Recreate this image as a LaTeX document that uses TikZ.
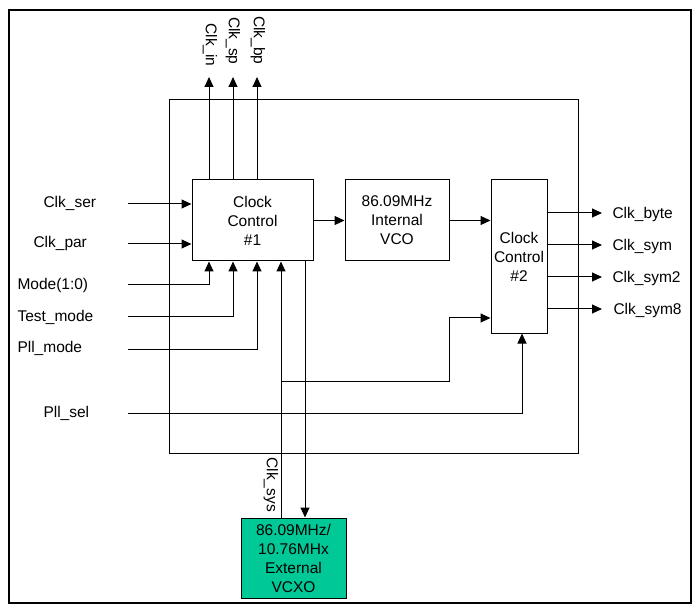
\documentclass[tikz,border=0pt]{standalone}
\usepackage{fontspec}
\setmainfont{Liberation Sans}
\usetikzlibrary{arrows.meta}
\definecolor{vcxofill}{RGB}{0,200,150}
\begin{document}
\begin{tikzpicture}[x=1pt,y=-1pt, line width=1pt,
  txt/.style={font=\fontsize{15.5}{19}\selectfont},
  blk/.style={draw, line width=1pt, inner sep=0pt, align=center, txt},
  arr/.style={-{Triangle[length=10pt,width=9pt]}},
  lbl/.style={inner sep=0pt, txt}]
\useasboundingbox (0,0) rectangle (696,612);
\draw[line width=1.5pt] (9,10) rectangle (691,603);
\draw (169,100) rectangle (578,453);

\node[blk, minimum width=121pt, minimum height=81pt] (cc1) at (252.5,220.5) {Clock\\Control\\\#1};
\node[blk, minimum width=104pt, minimum height=81pt] (vco) at (397,220.5) {86.09MHz\\Internal\\VCO};
\node[blk, minimum width=56pt, minimum height=153pt] (cc2) at (519,256.5) {Clock\\Control\\\#2};
\node[blk, fill=vcxofill, minimum width=105pt, minimum height=80pt] (vcxo) at (293.5,558) {86.09MHz/\\10.76MHx\\External\\VCXO};

\draw[arr] (cc1) -- (vco);
\draw[arr] (vco.east) -- (vco.east -| cc2.west);

% top outputs
\coordinate (t1) at (209,77);
\coordinate (t2) at (233,77);
\coordinate (t3) at (257,77);
\draw[arr] (cc1.north -| t1) -- (t1);
\draw[arr] (cc1.north -| t2) -- (t2);
\draw[arr] (cc1.north -| t3) -- (t3);
\node[lbl, rotate=-90, anchor=east] (lin) at (210,67) {Clk\_in};
\node[lbl, rotate=-90, anchor=east] (lsp) at (233,65) {Clk\_sp};
\node[lbl, rotate=-90, anchor=east] (lbp) at (258,65) {Clk\_bp};

% left inputs
\coordinate (iser) at (128,204);
\coordinate (ipar) at (128,244);
\coordinate (imode) at (128,285);
\coordinate (itest) at (128,317);
\coordinate (ipll) at (128,349);
\coordinate (isel) at (128,413);
\coordinate (sx) at (522,413);
\draw[arr] (iser) -- (iser -| cc1.west);
\draw[arr] (ipar) -- (ipar -| cc1.west);
\draw[arr] (imode) -| (cc1.south -| t1);
\draw[arr] (itest) -| (cc1.south -| t2);
\draw[arr] (ipll) -| (cc1.south -| t3);
\draw[arr] (isel) -| (cc2.south -| sx);
\node[lbl, anchor=west] (lser) at (43,203) {Clk\_ser};
\node[lbl, anchor=west] (lpar) at (33,243) {Clk\_par};
\node[lbl, anchor=west] (lmode) at (17,285) {Mode(1:0)};
\node[lbl, anchor=west] (ltest) at (17,317) {Test\_mode};
\node[lbl, anchor=west] (lpll) at (17,348) {Pll\_mode};
\node[lbl, anchor=west] (lsel) at (43,413) {Pll\_sel};

% right outputs
\coordinate (o1) at (602,213);
\coordinate (o2) at (602,245);
\coordinate (o3) at (602,277);
\coordinate (o4) at (602,309);
\draw[arr] (cc2.east |- o1) -- (o1);
\draw[arr] (cc2.east |- o2) -- (o2);
\draw[arr] (cc2.east |- o3) -- (o3);
\draw[arr] (cc2.east |- o4) -- (o4);
\node[lbl, anchor=west] (lbyte) at (612,214) {Clk\_byte};
\node[lbl, anchor=west] (lsym) at (612,246) {Clk\_sym};
\node[lbl, anchor=west] (lsym2) at (612,278) {Clk\_sym2};
\node[lbl, anchor=west] (lsym8) at (613,310) {Clk\_sym8};

% clk_sys and VCXO connections
\coordinate (sy) at (281,381);
\coordinate (bx) at (449,318);
\coordinate (dn) at (305,300);
\draw[arr] (vcxo.north -| sy) -- (cc1.south -| sy);
\draw[arr] (sy) -| (bx) -- (bx -| cc2.west);
\draw[arr] (cc1.south -| dn) -- (vcxo.north -| dn);
\node[lbl, rotate=-90, anchor=west] (lsys) at (271,457) {Clk\_sys};
\end{tikzpicture}
\end{document}
